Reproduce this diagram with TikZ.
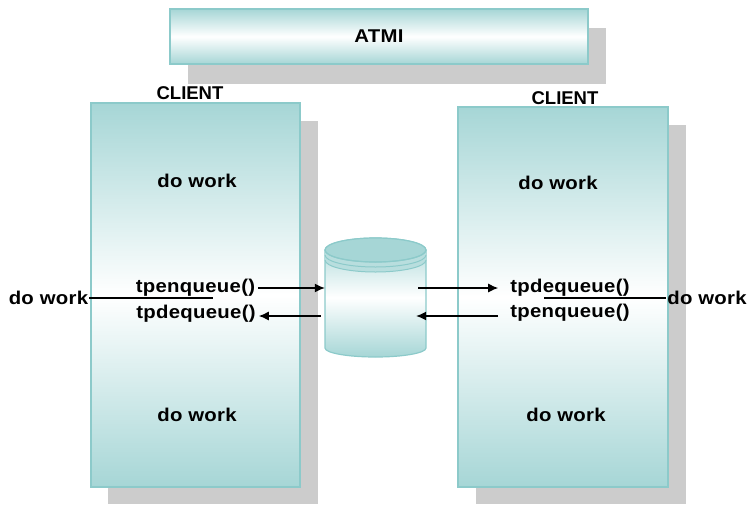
\documentclass[tikz,border=0pt]{standalone}
\usepackage{fontspec}
\setmainfont{Liberation Sans}
\usetikzlibrary{arrows.meta}
\definecolor{tealfill}{HTML}{A6D6D6}
\definecolor{tealedge}{HTML}{8CCACA}
\definecolor{shadowgray}{HTML}{CCCCCC}
\tikzset{
  lbl/.style={font=\fontsize{18.5}{20}\selectfont\bfseries, inner sep=0pt},
  wlbl/.style={font=\fontsize{18.5}{20}\selectfont\bfseries\addfontfeature{FakeStretch=1.1,LetterSpace=1.5}, inner sep=0pt},
  panel/.style={draw=tealedge, line width=1.2pt, top color=tealfill, bottom color=tealfill, middle color=white, inner sep=0pt},
  conn/.style={line width=1.2pt, -{Latex[length=10pt,width=9pt]}},
  plain/.style={line width=1.2pt},
}
\begin{document}
\begin{tikzpicture}[x=1pt,y=-1pt]
\useasboundingbox (0,0) rectangle (747,504);
% shadows
\fill[shadowgray] (188,28) rectangle (606,84);
\fill[shadowgray] (108,121) rectangle (318,504);
\fill[shadowgray] (476,125) rectangle (686,504);
% ATMI
\node[panel, minimum width=418pt, minimum height=55pt] (atmi) at (379,36.5) {};
\node[wlbl] (atmit) at (atmi.center) {ATMI};
% clients
\node[panel, minimum width=209pt, minimum height=384pt] (lc) at (195.5,295) {};
\node[panel, minimum width=210pt, minimum height=380pt] (rc) at (563,297) {};
\node[lbl] (lct) at (190,93) {CLIENT};
\node[lbl] (rct) at (565,98) {CLIENT};
\node[wlbl] (lw1) at (197,181) {do work};
\node[wlbl] (lw2) at (197,415) {do work};
\node[wlbl] (rw1) at (558,183) {do work};
\node[wlbl] (rw2) at (566,415) {do work};
% cylinder
\path[draw=tealedge, line width=1.2pt, top color=tealfill, bottom color=tealfill, middle color=white]
  (325,250) -- (325,348) arc[start angle=180, end angle=0, x radius=50.5, y radius=9]
  -- (426,250) arc[start angle=0, end angle=-180, x radius=50.5, y radius=12] -- cycle;
\fill[tealfill!80!white] (325,250) arc[start angle=180, end angle=0, x radius=50.5, y radius=12]
  -- (426,260) arc[start angle=0, end angle=180, x radius=50.5, y radius=12] -- cycle;
\fill[tealfill] (325,250) arc[start angle=180, end angle=-180, x radius=50.5, y radius=12];
\draw[tealedge, line width=1pt] (325,250) arc[start angle=180, end angle=0, x radius=50.5, y radius=12];
\draw[tealedge, line width=1pt] (325,255) arc[start angle=180, end angle=0, x radius=50.5, y radius=12];
\draw[tealedge, line width=1pt] (325,260) arc[start angle=180, end angle=0, x radius=50.5, y radius=12];
\draw[tealedge, line width=1.2pt] (325,250) arc[start angle=180, end angle=-180, x radius=50.5, y radius=12];
\node[minimum width=101pt, minimum height=119pt, inner sep=0pt] (db) at (375.5,297.5) {};
% left side
\node[wlbl] (ldo) at (48.5,298) {do work};
\node[wlbl] (lenq) at (195.5,288) {tpenqueue()};
\node[wlbl] (ldeq) at (196,314) {tpdequeue()};
\coordinate (lend) at (213,298);
\draw[plain] ([xshift=1pt]ldo.east) -- (lend);
\draw[conn] ([xshift=3pt]lenq.east) -- (db.west |- lenq.east);
\draw[conn] ([xshift=-4pt]db.west |- 0,316) -- ([xshift=3pt]ldeq.east |- 0,316);
% right side
\node[wlbl] (rdeq) at (570,288) {tpdequeue()};
\node[wlbl] (renq) at (570,313) {tpenqueue()};
\node[wlbl] (rdo) at (707,298) {do work};
\coordinate (rend) at (544,298);
\draw[plain] (rend) -- ([xshift=-1pt]rdo.west);
\draw[conn] ([xshift=-8pt]db.east |- 0,288) -- ([xshift=-12pt]rdeq.west);
\draw[conn] ([xshift=-12pt]renq.west |- 0,316) -- ([xshift=-10pt]db.east |- 0,316);
\end{tikzpicture}
\end{document}
